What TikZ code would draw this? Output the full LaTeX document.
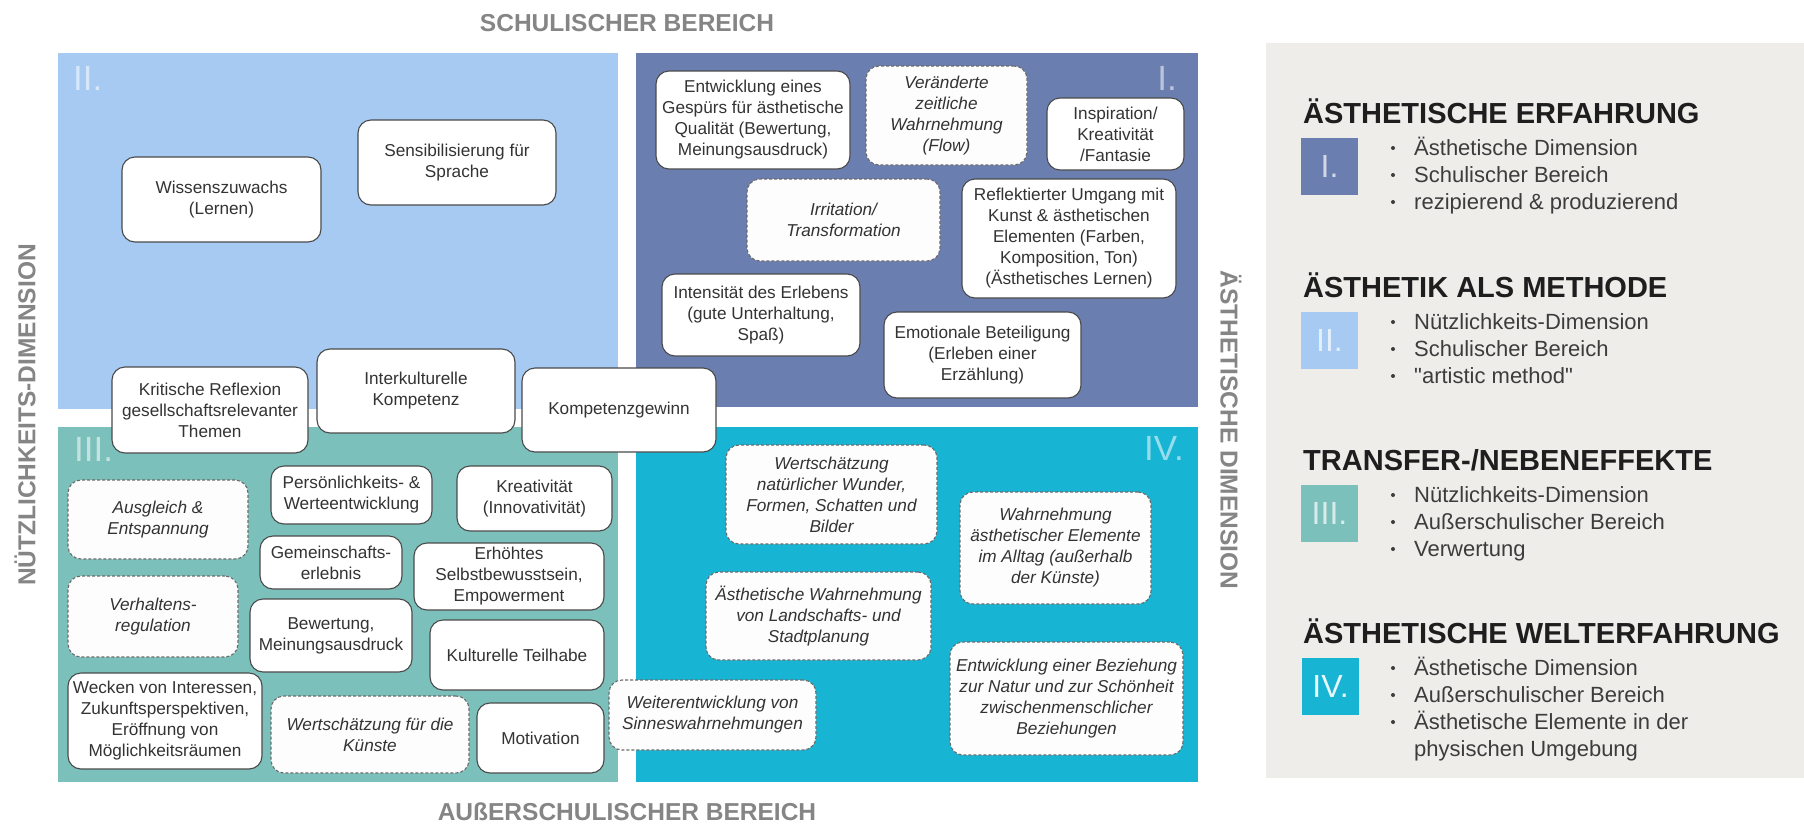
\documentclass[tikz,border=0pt]{standalone}
\usepackage{fontspec}
\setmainfont{Liberation Sans}
\newfontfamily\qfont{Liberation Sans}[Ligatures=TeXOff]
\definecolor{qI}{HTML}{6B7EB0}
\definecolor{qII}{HTML}{A6CAF2}
\definecolor{qIII}{HTML}{7CC0BB}
\definecolor{qIV}{HTML}{17B5D3}
\definecolor{legbg}{HTML}{EEEDEA}
\definecolor{sidegray}{HTML}{858585}
\definecolor{txt}{HTML}{333333}
\definecolor{boxline}{HTML}{4A4A4A}
\definecolor{dashline}{HTML}{6A6A6A}
\definecolor{dfill}{HTML}{FDFDFD}
\definecolor{legtitlec}{HTML}{1E1E1E}
\definecolor{legtxt}{HTML}{3C3C3C}
\newcommand{\bxfont}{\fontsize{17.2}{21}\selectfont}
\newcommand{\sidefont}{\fontsize{24.5}{28}\selectfont\bfseries}
\newcommand{\numfont}{\fontsize{35}{35}\selectfont}
\newcommand{\legtfont}{\fontsize{29}{32}\selectfont\bfseries}
\newcommand{\legbfont}{\fontsize{22}{26}\selectfont}
\tikzset{
  box/.style={draw=boxline, line width=1.1pt, fill=white, rounded corners=13pt,
    align=center, inner sep=2pt, text=txt, font=\bxfont},
  dbox/.style={box, draw=dashline, dash pattern=on 3pt off 2pt, fill=dfill,
    font=\bxfont\itshape},
  numr/.style={font=\numfont, text=white, text opacity=0.55, inner sep=0pt},
  sidelab/.style={font=\sidefont, text=sidegray, inner sep=0pt},
  legtitle/.style={font=\legtfont, text=legtitlec, inner sep=0pt},
  legline/.style={font=\legbfont, text=legtxt, inner sep=0pt, anchor=base west},
  legsq/.style={minimum width=57pt, minimum height=57pt, inner sep=0pt,
    font=\fontsize{32}{32}\selectfont, text=white, text opacity=0.7},
  dot/.style={fill=legtxt}
}
\begin{document}
\begin{tikzpicture}[x=1pt,y=-1pt]
\useasboundingbox (0,0) rectangle (1804,825);
\fill[white] (0,0) rectangle (1804,825);

% quadrants
\fill[qII]  (58,53)  rectangle (618,409);
\fill[qI]   (636,53) rectangle (1198,407);
\fill[qIII] (58,427) rectangle (618,782);
\fill[qIV]  (636,427) rectangle (1198,782);

% numerals
\node[numr, anchor=base west] (nII) at (73,90) {II.};
\node[numr, anchor=base east] (nI) at (1177,90) {I.};
\node[numr, anchor=base west] (nIII) at (74,461) {III.};
\node[numr, anchor=base east] (nIV) at (1184,460) {IV.};

% axis labels
\node[sidelab, anchor=base] (schul) at (627,31) {SCHULISCHER BEREICH};
\node[sidelab, anchor=base] (ausser) at (627,820) {AUßERSCHULISCHER BEREICH};
\node[sidelab, rotate=90] (nutz) at (25,415) {NÜTZLICHKEITS-DIMENSION};
\node[sidelab, rotate=-90] (aesth) at (1231,430) {ÄSTHETISCHE DIMENSION};

% quadrant II
\node[box, minimum width=199pt, minimum height=85pt] (wiss) at (221.5,199.5) {Wissenszuwachs\\(Lernen)};
\node[box, minimum width=198pt, minimum height=85pt] (sens) at (457,162.5) {Sensibilisierung für\\Sprache};

% quadrant I
\node[box, minimum width=194pt, minimum height=98pt] (gesp) at (753,120) {Entwicklung eines\\Gespürs für ästhetische\\Qualität (Bewertung,\\Meinungsausdruck)};
\node[dbox, minimum width=161pt, minimum height=99pt] (flow) at (946.5,115.5) {Veränderte\\zeitliche\\Wahrnehmung\\(Flow)};
\node[box, minimum width=137pt, minimum height=72pt] (insp) at (1115.5,134) {Inspiration/\\Kreativität\\/Fantasie};
\node[dbox, minimum width=193pt, minimum height=82pt] (irr) at (843.5,220) {Irritation/\\Transformation};
\node[box, minimum width=214pt, minimum height=119pt] (refl) at (1069,238.5) {Reflektierter Umgang mit\\Kunst \& ästhetischen\\Elementen (Farben,\\Komposition, Ton)\\(Ästhetisches Lernen)};
\node[box, minimum width=198pt, minimum height=82pt] (inten) at (761,315) {Intensität des Erlebens\\(gute Unterhaltung,\\Spaß)};
\node[box, minimum width=197pt, minimum height=86pt] (emo) at (982.5,355) {Emotionale Beteiligung\\(Erleben einer\\Erzählung)};

% quadrant III
\node[dbox, minimum width=180pt, minimum height=79pt] (ausg) at (158,519.5) {Ausgleich \&\\Entspannung};
\node[box, minimum width=161pt, minimum height=58pt] (pers) at (351.5,495) {Persönlichkeits- \&\\Werteentwicklung};
\node[box, minimum width=155pt, minimum height=65pt] (krea) at (534.5,498.5) {Kreativität\\(Innovativität)};
\node[box, minimum width=142pt, minimum height=53pt] (gem) at (331,562.5) {Gemeinschafts-\\erlebnis};
\node[box, minimum width=190pt, minimum height=67pt] (erh) at (509,576.5) {Erhöhtes\\Selbstbewusstsein,\\Empowerment};
\node[dbox, minimum width=170pt, minimum height=81pt] (verh) at (153,616.5) {Verhaltens-\\regulation};
\node[box, minimum width=162pt, minimum height=73pt] (bew) at (331,635.5) {Bewertung,\\Meinungsausdruck};
\node[box, minimum width=174pt, minimum height=70pt] (kult) at (517,655) {Kulturelle Teilhabe};
\node[box, minimum width=194pt, minimum height=96pt] (weck) at (165,721) {Wecken von Interessen,\\Zukunftsperspektiven,\\Eröffnung von\\Möglichkeitsräumen};
\node[dbox, minimum width=198pt, minimum height=77pt] (wert) at (370,734.5) {Wertschätzung für die\\Künste};
\node[box, minimum width=127pt, minimum height=70pt] (moti) at (540.5,738) {Motivation};

% quadrant IV
\node[dbox, minimum width=211pt, minimum height=99pt] (wnat) at (831.5,494.5) {Wertschätzung\\natürlicher Wunder,\\Formen, Schatten und\\Bilder};
\node[dbox, minimum width=191pt, minimum height=112pt] (wahr) at (1055.5,548) {Wahrnehmung\\ästhetischer Elemente\\im Alltag (außerhalb\\der Künste)};
\node[dbox, minimum width=225pt, minimum height=88pt] (land) at (818.5,616) {Ästhetische Wahrnehmung\\von Landschafts- und\\Stadtplanung};
\node[dbox, minimum width=233pt, minimum height=113pt] (bez) at (1066.5,698.5) {Entwicklung einer Beziehung\\zur Natur und zur Schönheit\\zwischenmenschlicher\\Beziehungen};
\node[dbox, minimum width=207pt, minimum height=70pt] (weiter) at (712.5,715) {Weiterentwicklung von\\Sinneswahrnehmungen};

% boxes straddling II/III
\node[box, minimum width=196pt, minimum height=86pt] (krit) at (210,410) {Kritische Reflexion\\gesellschaftsrelevanter\\Themen};
\node[box, minimum width=198pt, minimum height=84pt] (inter) at (416,391) {Interkulturelle\\Kompetenz};
\node[box, minimum width=194pt, minimum height=84pt] (komp) at (619,410) {Kompetenzgewinn};

% legend
\fill[legbg] (1266,43) rectangle (1804,778);

\node[legtitle, anchor=base west] (t1) at (1303,123) {ÄSTHETISCHE ERFAHRUNG};
\node[legsq, fill=qI] (s1) at (1329.5,166.5) {I.};
\fill[dot] (1393,148) circle (2);
\fill[dot] (1393,175) circle (2);
\fill[dot] (1393,202) circle (2);
\node[legline] (l11) at (1414,155) {Ästhetische Dimension};
\node[legline] (l12) at (1414,182) {Schulischer Bereich};
\node[legline] (l13) at (1414,209) {rezipierend \& produzierend};

\node[legtitle, anchor=base west] (t2) at (1303,297) {ÄSTHETIK ALS METHODE};
\node[legsq, fill=qII] (s2) at (1329.5,340.5) {II.};
\fill[dot] (1393,322) circle (2);
\fill[dot] (1393,349) circle (2);
\fill[dot] (1393,376) circle (2);
\node[legline] (l21) at (1414,329) {Nützlichkeits-Dimension};
\node[legline] (l22) at (1414,356) {Schulischer Bereich};
\node[legline] (l23) at (1414,383) {{\qfont "artistic method"}};

\node[legtitle, anchor=base west] (t3) at (1303,470) {TRANSFER-/NEBENEFFEKTE};
\node[legsq, fill=qIII] (s3) at (1329.5,513.5) {III.};
\fill[dot] (1393,495) circle (2);
\fill[dot] (1393,522) circle (2);
\fill[dot] (1393,549) circle (2);
\node[legline] (l31) at (1414,502) {Nützlichkeits-Dimension};
\node[legline] (l32) at (1414,529) {Außerschulischer Bereich};
\node[legline] (l33) at (1414,556) {Verwertung};

\node[legtitle, anchor=base west] (t4) at (1303,643) {ÄSTHETISCHE WELTERFAHRUNG};
\node[legsq, fill=qIV, text opacity=0.9] (s4) at (1330.5,686.5) {IV.};
\fill[dot] (1393,668) circle (2);
\fill[dot] (1393,695) circle (2);
\fill[dot] (1393,722) circle (2);
\node[legline] (l41) at (1414,675) {Ästhetische Dimension};
\node[legline] (l42) at (1414,702) {Außerschulischer Bereich};
\node[legline] (l43) at (1414,729) {Ästhetische Elemente in der};
\node[legline] (l44) at (1414,756) {physischen Umgebung};
\end{tikzpicture}
\end{document}
